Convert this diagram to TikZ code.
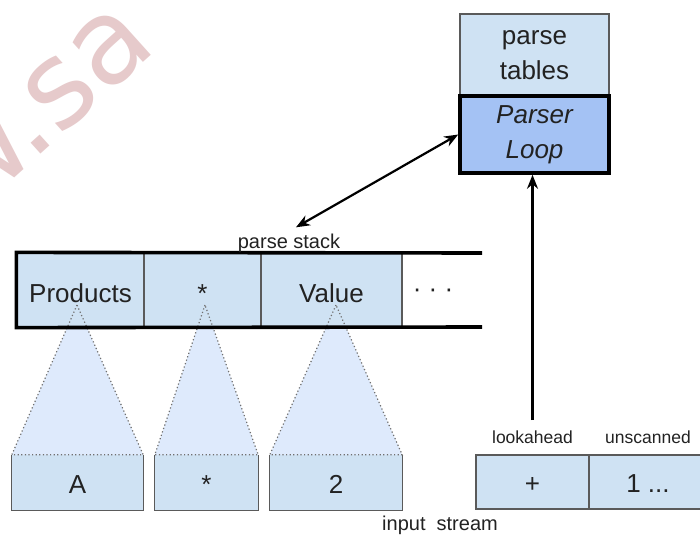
\documentclass[tikz,border=0pt]{standalone}
\usepackage{fontspec}
\setmainfont{Liberation Sans}
\newfontfamily\markfont{DejaVu Sans}
\usetikzlibrary{arrows.meta}

\definecolor{cellblue}{HTML}{CFE2F3}
\definecolor{loopblue}{HTML}{A4C2F4}
\definecolor{treeblue}{HTML}{DEEAFC}
\definecolor{edgegray}{HTML}{5A5A5A}
\definecolor{dotgray}{HTML}{707070}
\definecolor{inkgray}{HTML}{222222}
\definecolor{markpink}{HTML}{E6CACB}

\tikzset{
  lbl/.style={font=\fontsize{26}{35}\selectfont, text=inkgray},
  smalllbl/.style={font=\fontsize{20}{24}\selectfont, text=inkgray, inner sep=2pt},
  tinylbl/.style={font=\fontsize{17.5}{21}\selectfont, text=inkgray, inner sep=2pt},
  cellbox/.style={draw=edgegray, line width=1.2pt, fill=cellblue, inner sep=0pt, lbl},
  stackcell/.style={cellbox, minimum height=74pt, text height=24pt, text depth=0pt},
  inputcell/.style={cellbox, minimum height=54pt, text height=21pt, text depth=0pt},
  leafbox/.style={fill=cellblue, inner sep=0pt, lbl, minimum height=55pt,
                  text height=21pt, text depth=0pt},
  leafedge/.style={draw=edgegray, line width=1.2pt},
  fanfill/.style={fill=treeblue},
  fanline/.style={draw=dotgray, line width=1.2pt, dash pattern=on 1.2pt off 2.4pt},
  stackrule/.style={line width=3.6pt, black, line join=miter},
  link/.style={line width=2.2pt, black}
}

\begin{document}
\begin{tikzpicture}[x=1pt, y=-1pt]
\clip (0,0) rectangle (700,540);
\fill[white] (0,0) rectangle (700,540);

% faint watermark in the upper left corner
\node[text=markpink, font=\markfont\fontsize{118}{120}\selectfont, rotate=42,
      anchor=base west, inner sep=0pt] (mark) at (-32,220) {w.sa};

% parser core
\node[cellbox, align=center, minimum width=149pt, minimum height=82pt]
  (tables) at (534.5,55) {parse\\tables};
\node[cellbox, draw=black, line width=3.6pt, fill=loopblue, align=center,
      font=\fontsize{26}{35}\selectfont\itshape, minimum width=149pt, minimum height=77pt]
  (loop) at (534.5,134.5) {Parser\\Loop};

% apexes of the subtree fans
\coordinate (apexA) at (77,305);
\coordinate (apexB) at (205,305);
\coordinate (apexC) at (336,305);

% leaf boxes of the input
\node[leafbox, minimum width=131pt] (leafA) at (77.5,482.5) {A};
\node[leafbox, minimum width=103pt] (leafB) at (206.5,482.5) {*};
\node[leafbox, minimum width=132pt] (leafC) at (336,482.5) {2};

% fan fills
\fill[fanfill] (apexA) -- (leafA.north west) -- (leafA.north east) -- cycle;
\fill[fanfill] (apexB) -- (leafB.north west) -- (leafB.north east) -- cycle;
\fill[fanfill] (apexC) -- (leafC.north west) -- (leafC.north east) -- cycle;

% parse stack cells
\node[stackcell, minimum width=127pt] (prod) at (80.5,290) {Products};
\node[stackcell, minimum width=117pt] (star) at (202.5,290) {*};
\node[stackcell, minimum width=141pt] (val) at (331.5,290) {Value};
\node[lbl] (more) at (433,293) {· · ·};
\coordinate (stackNE) at (482,253);
\coordinate (stackSE) at (482,327);

% leaf box outlines (top edge is the dotted fan base)
\foreach \n in {leafA,leafB,leafC}
  \draw[leafedge] (\n.north west) -- (\n.south west) -- (\n.south east) -- (\n.north east);

% fan outlines
\draw[fanline] (apexA) -- (leafA.north west) -- (leafA.north east) -- cycle;
\draw[fanline] (apexB) -- (leafB.north west) -- (leafB.north east) -- cycle;
\draw[fanline] (apexC) -- (leafC.north west) -- (leafC.north east) -- cycle;

% stack rails
\draw[stackrule] (stackSE) -- (prod.south west) -- (prod.north west) -- (stackNE);

% lookahead and unscanned input
\node[inputcell, minimum width=113pt] (look) at (532.5,482) {+};
\node[inputcell, minimum width=118pt] (rest) at (648,482) {1 ...};

% labels
\node[smalllbl, anchor=base] (psl) at (289,248) {parse stack};
\node[tinylbl, anchor=base] (lookl) at (532.5,443) {lookahead};
\node[tinylbl, anchor=base] (restl) at (648,443) {unscanned};
\node[smalllbl, anchor=base] (instream) at (440,530) {input\ \ stream};

% connectors
\draw[link, {Stealth[length=14pt, width=11pt]}-{Stealth[length=14pt, width=11pt]}, shorten >=8pt]
  (loop.west) -- (psl.north);
\draw[link, -{Stealth[length=14pt, width=11pt]}, shorten <=8pt]
  (lookl.north) -- (lookl.north |- loop.south);
\end{tikzpicture}
\end{document}
